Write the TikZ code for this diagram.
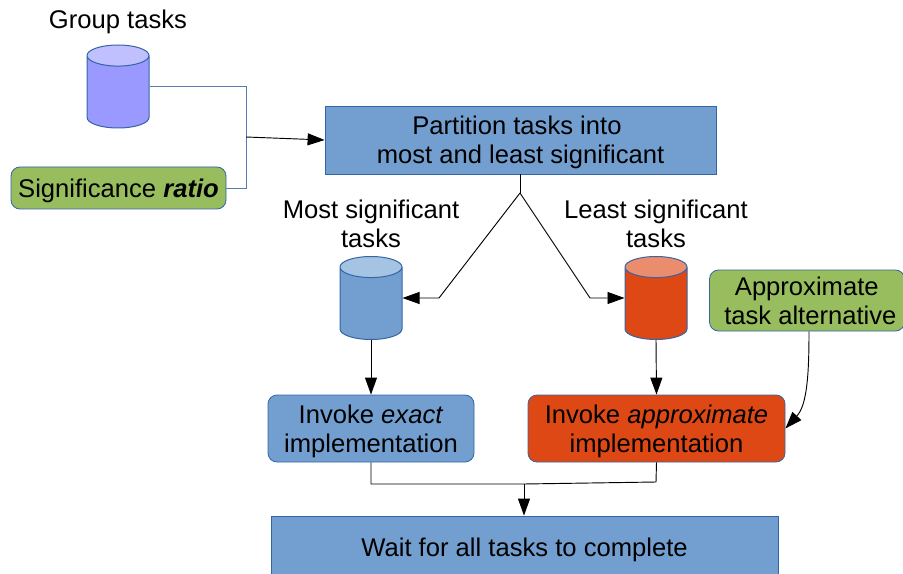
\documentclass[tikz,border=0pt]{standalone}
\usepackage{fontspec}
\setmainfont{Liberation Sans}
\usetikzlibrary{arrows.meta,shapes.geometric}
\definecolor{taskblue}{HTML}{729FCF}
\definecolor{taskblueend}{HTML}{A5C3E3}
\definecolor{taskline}{HTML}{3465A4}
\definecolor{taskgreen}{HTML}{97BD5F}
\definecolor{taskred}{HTML}{DE4815}
\definecolor{taskredend}{HTML}{EB8C6D}
\definecolor{taskviolet}{HTML}{9999FF}
\definecolor{taskvioletend}{HTML}{C0C0FF}
\newcommand{\trailspace}{\hspace*{0.278em}}
\newcommand{\liftline}{\rule{0pt}{18pt}}
\tikzset{
  every node/.style={font=\fontsize{19.2}{21.75}\selectfont,align=center,inner sep=0pt},
  box/.style={draw=taskline,line width=0.6pt,fill=#1},
  roundbox/.style={box=#1,rounded corners=6.75pt},
  store/.style n args={2}{draw=taskline,line width=0.75pt,shape=cylinder,shape border rotate=90,
    anchor=shape center,inner sep=5pt,aspect=1.58,minimum height=62.25pt,minimum width=46.5pt,
    cylinder uses custom fill,cylinder body fill=#1,cylinder end fill=#2},
  conn/.style={line width=0.7pt,black},
  feed/.style={line width=0.6pt,taskline!85},
  >={Triangle[length=12.75pt,width=9pt]}
}
\begin{document}
\begin{tikzpicture}[x=0.75pt,y=-0.75pt]
\useasboundingbox (0,0) rectangle (903,574);
\node (grouplabel) at (118,22) {Group tasks};
\node[store={taskviolet}{taskvioletend}] (group) at (118,86.5) {};
\node[roundbox=taskgreen,minimum width=161.25pt,minimum height=31.5pt] (ratio) at (118.5,188) {\liftline Significance \textbf{\textit{ratio}}};
\node[box=taskblue,minimum width=293.25pt,minimum height=51pt] (partition) at (520.5,140) {\liftline Partition tasks into\trailspace\\most and least significant};
\node (mostlabel) at (371,224) {Most significant\\tasks};
\node (leastlabel) at (656,224) {Least significant\\tasks};
\node[store={taskblue}{taskblueend}] (most) at (371,298) {};
\node[store={taskred}{taskredend}] (least) at (656,298) {};
\node[roundbox=taskgreen,minimum width=146.25pt,minimum height=45.75pt] (alternative) at (807,300.5) {\hspace*{5pt}Approximate\trailspace\\\hspace*{5pt}task alternative};
\node[roundbox=taskblue,minimum width=154.5pt,minimum height=50.25pt] (exact) at (371,428.5) {\liftline Invoke \textit{exact}\\implementation};
\node[roundbox=taskred,minimum width=192.75pt,minimum height=50.25pt] (approx) at (656.5,428.5) {\liftline Invoke \textit{approximate}\\implementation};
\node[box=taskblue,minimum width=380.25pt,minimum height=46.5pt] (wait) at (524.5,547) {\liftline Wait for all tasks to complete};
\coordinate (merge) at (246,137);
\coordinate (fork) at (520,193);
\coordinate (forkleft) at (439,298);
\coordinate (forkright) at (590,298);
\coordinate (join) at (524,484);

\draw[feed] (group.east|-group.shape center) -| (merge);
\draw[feed] (ratio.east) -| (merge);
\draw[conn,->] (merge) -- (partition.west);
\draw[conn] (partition.south-|fork) -- (fork);
\draw[conn,->] (fork) -- (forkleft) -- (most.east|-forkleft);
\draw[conn,->] (fork) -- (forkright) -- (least.west|-forkright);
\draw[conn,->] (most.south) -- (exact.north);
\draw[conn,->] (least.south) -- (approx.north);
\draw[conn,->] (alternative.south-|809,0) .. controls (809,375) and (807,405) .. (approx.east);

\draw[conn] (exact.south) |- (join) -- (656,482) -- (approx.south);
\draw[conn,->] (join) -- (wait.north-|join);
\end{tikzpicture}
\end{document}
